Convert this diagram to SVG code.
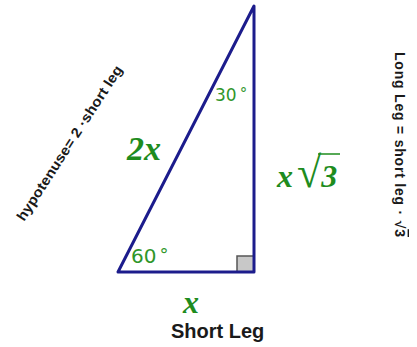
<svg xmlns="http://www.w3.org/2000/svg" width="417" height="347" viewBox="0 0 417 347">
<style>
.math{font-family:"Liberation Serif","Times New Roman",serif;font-style:italic;font-weight:bold;fill:#1e8c1e;}
.deg{font-family:"DejaVu Sans",Verdana,sans-serif;fill:#2f962a;}
.note{font-family:"Liberation Sans",Arial,sans-serif;font-weight:bold;fill:#1a1a1a;}
.edge{stroke:#1c1c8c;stroke-width:3;fill:none;stroke-linejoin:round;stroke-linecap:round;}
</style>
<rect width="417" height="347" fill="#ffffff"/>
<g id="right-angle">
<rect x="237" y="256" width="17" height="16" fill="#c8c8c8" stroke="#555555" stroke-width="1.5"/>
</g>
<g id="connectors">
<path class="edge" d="M118,272 L254,6 L254,272 Z"/>
</g>
<g id="label-2x"><text class="math" x="127" y="160" font-size="34">2x</text></g>
<g id="label-30"><text class="deg" x="215" y="101" font-size="17">30<tspan dx="3" font-size="15" dy="-2">°</tspan></text></g>
<g id="label-60"><text class="deg" x="131" y="263" font-size="20">60<tspan dx="3" font-size="18" dy="-2">°</tspan></text></g>
<g id="label-xroot3">
<text class="math" x="277" y="187" font-size="32">x<tspan font-style="normal" font-weight="normal" font-size="44" dx="4">√</tspan><tspan>3</tspan></text>
<line x1="318" y1="154" x2="340" y2="154" stroke="#1e8c1e" stroke-width="1.5"/>
</g>
<g id="label-x"><text class="math" x="191" y="313" font-size="32" text-anchor="middle">x</text></g>
<g id="label-short-leg"><text class="note" x="171" y="338" font-size="20">Short Leg</text></g>
<g id="note-hypotenuse"><text class="note" transform="translate(24,222) rotate(-57)" font-size="14" textLength="182" lengthAdjust="spacingAndGlyphs">hypotenuse= 2 ·short leg</text></g>
<g id="note-long-leg"><text class="note" transform="translate(395,52) rotate(90)" font-size="14" font-weight="normal" textLength="185" lengthAdjust="spacing">Long Leg  =  short leg  ·  √<tspan text-decoration="overline">3</tspan></text></g>
</svg>
